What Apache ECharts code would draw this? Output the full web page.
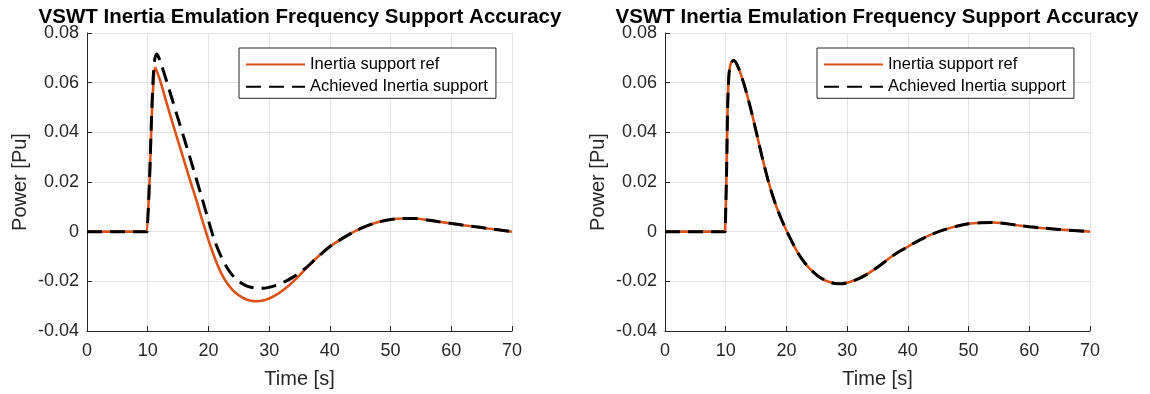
<!DOCTYPE html>
<html>
<head>
<meta charset="utf-8">
<script src="https://cdn.jsdelivr.net/npm/echarts@6/dist/echarts.min.js"></script>
<style>
  html, body { margin: 0; padding: 0; background: #fff; }
  #chart { width: 1150px; height: 394px; }
</style>
</head>
<body>
<div id="chart"></div>
<script>
// Shared labels
const titleText = 'VSWT Inertia Emulation Frequency Support Accuracy';
const xName = 'Time [s]';
const yName = 'Power [Pu]';
const seriesNames = ['Inertia support ref', 'Achieved Inertia support'];
const xTicks = [0, 10, 20, 30, 40, 50, 60, 70];
const yTicks = [-0.04, -0.02, 0, 0.02, 0.04, 0.06, 0.08];

// Left panel: reference vs achieved (time [s], power [pu])
const leftRefT = [0, 9.9, 10, 10.3, 10.6, 10.9, 11.25, 12, 13, 14, 15, 16, 17, 18, 19, 20, 21, 22, 23, 24, 25, 26, 27, 28, 29, 30, 31, 32, 33, 34, 35, 36, 37, 38, 39, 40, 42, 44, 46, 48, 50, 52, 54, 56, 58, 60, 62, 64, 66, 68, 70];
const leftRefP = [0, 0, 0, 0.02, 0.042, 0.058, 0.066, 0.0612, 0.0528, 0.0445, 0.0365, 0.0285, 0.0205, 0.0128, 0.0045, -0.0033, -0.0103, -0.0162, -0.0205, -0.0235, -0.0256, -0.027, -0.0278, -0.028, -0.0277, -0.0269, -0.0257, -0.0241, -0.0222, -0.02, -0.0176, -0.015, -0.0125, -0.0102, -0.008, -0.006, -0.0028, 0, 0.0022, 0.0039, 0.0049, 0.0053, 0.0053, 0.0047, 0.004, 0.0033, 0.0026, 0.002, 0.0013, 0.0007, 0];
const leftAchT = [0, 9.9, 10, 10.3, 10.6, 10.9, 11.2, 11.5, 12, 13, 14, 15, 16, 17, 18, 19, 20, 21, 22, 23, 24, 25, 26, 27, 28, 29, 30, 31, 32, 33, 34, 35, 36, 37, 38, 39, 40, 42, 44, 46, 48, 50, 52, 54, 56, 58, 60, 62, 64, 66, 68, 70];
const leftAchP = [0, 0, 0, 0.021, 0.044, 0.062, 0.07, 0.0715, 0.069, 0.0615, 0.0535, 0.0455, 0.0375, 0.0295, 0.0213, 0.013, 0.0045, -0.0035, -0.0095, -0.0142, -0.0177, -0.02, -0.0215, -0.0224, -0.0228, -0.0228, -0.0224, -0.0217, -0.0208, -0.0196, -0.0182, -0.0165, -0.0147, -0.0125, -0.0102, -0.008, -0.006, -0.0028, 0, 0.0022, 0.0039, 0.0049, 0.0053, 0.0053, 0.0047, 0.004, 0.0033, 0.0026, 0.002, 0.0013, 0.0007, 0];

// Right panel: reference vs achieved (the two curves coincide)
const rightRefT = [0, 9.9, 10, 10.15, 10.3, 10.5, 10.8, 11.3, 12, 13, 14, 15, 16, 17, 18, 19, 20, 21, 22, 23, 24, 25, 26, 27, 28, 29, 30, 31, 32, 33, 34, 35, 36, 37, 38, 39, 40, 42, 44, 46, 48, 50, 52, 54, 56, 58, 60, 62, 65, 70];
const rightRefP = [0, 0, 0, 0.025, 0.048, 0.062, 0.0675, 0.069, 0.0665, 0.0595, 0.0506, 0.0405, 0.03, 0.0205, 0.0125, 0.006, 0.0005, -0.0045, -0.009, -0.0125, -0.0153, -0.0175, -0.0191, -0.0202, -0.0209, -0.021, -0.0206, -0.0198, -0.0188, -0.0175, -0.016, -0.0143, -0.0125, -0.0106, -0.0089, -0.0074, -0.006, -0.0033, -0.001, 0.0008, 0.0022, 0.0032, 0.0036, 0.0037, 0.0033, 0.0026, 0.002, 0.0015, 0.0009, 0];
const rightAchT = [0, 9.9, 10, 10.15, 10.3, 10.5, 10.8, 11.3, 12, 13, 14, 15, 16, 17, 18, 19, 20, 21, 22, 23, 24, 25, 26, 27, 28, 29, 30, 31, 32, 33, 34, 35, 36, 37, 38, 39, 40, 42, 44, 46, 48, 50, 52, 54, 56, 58, 60, 62, 65, 70];
const rightAchP = [0, 0, 0, 0.025, 0.048, 0.062, 0.0675, 0.069, 0.0665, 0.0595, 0.0506, 0.0405, 0.03, 0.0205, 0.0125, 0.006, 0.0005, -0.0045, -0.009, -0.0125, -0.0153, -0.0175, -0.0191, -0.0202, -0.0209, -0.021, -0.0206, -0.0198, -0.0188, -0.0175, -0.016, -0.0143, -0.0125, -0.0106, -0.0089, -0.0074, -0.006, -0.0033, -0.001, 0.0008, 0.0022, 0.0032, 0.0036, 0.0037, 0.0033, 0.0026, 0.002, 0.0015, 0.0009, 0];

const pairs = (t, p) => t.map((v, i) => [v, p[i]]);

const FONT = '"Liberation Sans", Arial, Helvetica, sans-serif';
const TXT = '#262626';
const ORANGE = '#D95319';
const GRIDC = '#e3e3e3';

const grids = [
  { left: 87, top: 33, width: 425, height: 300 },
  { left: 665, top: 33, width: 425, height: 300 }
];

function xAxisFor(i) {
  return {
    type: 'value', gridIndex: i, min: 0, max: 70, interval: 10,
    name: xName, nameLocation: 'middle', nameGap: 38,
    nameTextStyle: { fontFamily: FONT, fontSize: 20, color: TXT },
    axisLine: { onZero: false, lineStyle: { color: TXT, width: 1 } },
    axisTick: { inside: true, length: 5, lineStyle: { color: TXT } },
    axisLabel: { fontFamily: FONT, fontSize: 18, color: TXT, margin: 11,
      formatter: v => xTicks.includes(v) ? String(v) : '' },
    splitLine: { show: true, lineStyle: { color: GRIDC, width: 1 } }
  };
}
function yAxisFor(i) {
  return {
    type: 'value', gridIndex: i, min: -0.04, max: 0.08, interval: 0.02,
    name: yName, nameLocation: 'middle', nameGap: 57, nameRotate: 90,
    nameTextStyle: { fontFamily: FONT, fontSize: 20, color: TXT },
    axisLine: { show: true, lineStyle: { color: TXT, width: 1 } },
    axisTick: { show: true, inside: true, length: 5, lineStyle: { color: TXT } },
    axisLabel: { fontFamily: FONT, fontSize: 18, color: TXT, margin: 8,
      formatter: v => {
        const m = yTicks.find(t => Math.abs(t - v) < 1e-9);
        return m === undefined ? '' : (m === 0 ? '0' : m.toFixed(2));
      } },
    splitLine: { show: true, lineStyle: { color: GRIDC, width: 1 } }
  };
}
function legendFor(left) {
  return {
    show: true, orient: 'vertical', left: left, top: 48,
    data: [ { name: seriesNames[0] }, { name: seriesNames[1] } ],
    itemWidth: 59, itemHeight: 14, itemGap: 5.3,
    padding: [8, 8, 3, 6],
    backgroundColor: '#fff', borderColor: TXT, borderWidth: 1,
    // hide the marker dot, keep only the line sample
    itemStyle: { opacity: 0 },
    textStyle: { fontFamily: FONT, fontSize: 16.5, color: '#000' },
    selectedMode: false
  };
}
function refSeries(i, data) {
  return {
    name: seriesNames[0], type: 'line', xAxisIndex: i, yAxisIndex: i,
    data: data, showSymbol: false, symbol: 'none', smooth: 0.3,
    lineStyle: { color: ORANGE, width: 2.6 }, itemStyle: { color: ORANGE }, z: 2
  };
}
function achSeries(i, data) {
  return {
    name: seriesNames[1], type: 'line', xAxisIndex: i, yAxisIndex: i,
    data: data, showSymbol: false, symbol: 'none', smooth: 0.3,
    lineStyle: { color: '#000', width: 3, type: [15, 8] }, itemStyle: { color: '#000' }, z: 3
  };
}

const chart = echarts.init(document.getElementById('chart'), null, { renderer: 'canvas' });
chart.setOption({
  animation: false,
  backgroundColor: '#fff',
  title: [
    { text: titleText, left: 295, top: 2, textAlign: 'center',
      textStyle: { fontFamily: FONT, fontSize: 20.5, fontWeight: 'bold', color: '#000' } },
    { text: titleText, left: 872, top: 2, textAlign: 'center',
      textStyle: { fontFamily: FONT, fontSize: 20.5, fontWeight: 'bold', color: '#000' } }
  ],
  grid: grids,
  xAxis: [xAxisFor(0), xAxisFor(1)],
  yAxis: [yAxisFor(0), yAxisFor(1)],
  legend: [legendFor(239), legendFor(817)],
  series: [
    refSeries(0, pairs(leftRefT, leftRefP)),
    achSeries(0, pairs(leftAchT, leftAchP)),
    refSeries(1, pairs(rightRefT, rightRefP)),
    achSeries(1, pairs(rightAchT, rightAchP))
  ]
});
</script>
</body>
</html>
